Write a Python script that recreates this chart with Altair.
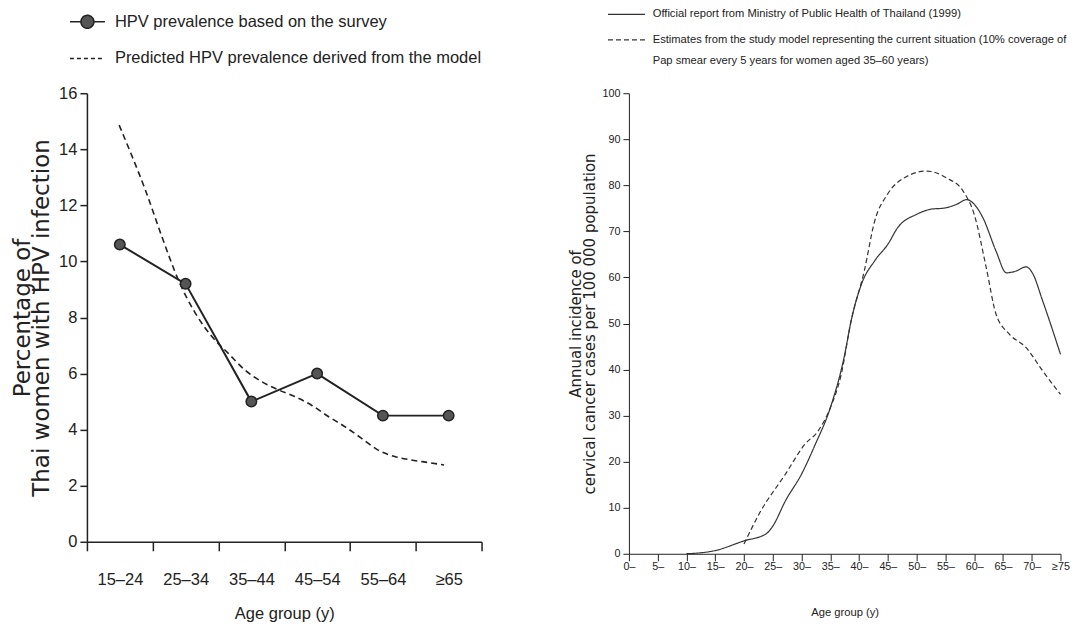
import json
import altair as alt
import pandas as pd

NARROW = "Liberation Sans, Arial, sans-serif"
WIDE = "DejaVu Sans, Verdana, sans-serif"

# ---------------- Left panel data ----------------
left_groups = ["15–24", "25–34", "35–44", "45–54", "55–64", "≥65"]
survey_pos = [0.5, 1.5, 2.5, 3.5, 4.5, 5.5]
survey_pct = [10.6, 9.2, 5.0, 6.0, 4.5, 4.5]
model_pos = [0.49, 0.69, 0.89, 1.14, 1.39, 1.65, 1.90, 2.15, 2.40, 2.66, 2.91,
             3.16, 3.41, 3.67, 3.92, 4.17, 4.42, 4.68, 4.93, 5.18, 5.43]
model_pct = [14.86, 13.73, 12.54, 10.88, 9.34, 8.15, 7.32, 6.72, 6.13, 5.71, 5.42,
             5.18, 4.88, 4.47, 4.11, 3.70, 3.28, 3.04, 2.92, 2.83, 2.74]
S1 = "HPV prevalence based on the survey"
S2 = "Predicted HPV prevalence derived from the model"

# ---------------- Right panel data ----------------
age_ticks = list(range(0, 80, 5))
official_age = [10, 15, 20, 23.8, 25, 27.2, 30, 32.4, 35, 37.5, 38.6, 40.4, 42.7, 45,
                46.7, 50, 52.4, 55, 57, 58.7, 60, 61.5, 63.8, 65.6, 67.3, 69, 70.1, 71.9, 75]
official_val = [0, 0.7, 2.8, 4.3, 6.0, 11.5, 17.3, 23.8, 31.7, 43.3, 50.5, 58.5, 63.6, 67.2,
                70.8, 73.7, 74.8, 75.1, 75.9, 76.9, 75.9, 73.0, 65.7, 61.0, 61.4, 62.3, 61.0, 54.9, 43.3]
est_age = [20, 22.6, 27.2, 30.6, 32.9, 35, 36.9, 38.6, 40.9, 42.7, 44.9, 47.8, 51.8,
           55.2, 58.1, 60, 62.1, 63.8, 66.1, 69, 71.9, 75]
est_val = [2.1, 8.6, 17.3, 23.8, 26.7, 31.7, 39.0, 50.5, 61.4, 72.2, 78.0, 81.6, 83.1,
           81.6, 78.7, 73.7, 62.1, 52.0, 47.7, 44.8, 39.7, 34.6]
R1 = "Official report from Ministry of Public Health of Thailand (1999)"
R2 = ("Estimates from the study model representing the current situation (10% coverage of"
      "|Pap smear every 5 years for women aged 35–60 years)")

# ---------------- Left panel ----------------
survey_df = pd.DataFrame({"pos": survey_pos, "pct": survey_pct, "series": S1})
model_df = pd.DataFrame({"pos": model_pos, "pct": model_pct, "series": S2})
legend_df = pd.DataFrame({"series": [S1, S2]})

x_left = alt.X(
    "pos:Q",
    scale=alt.Scale(domain=[0, 6], nice=False, zero=False),
    axis=alt.Axis(
        values=list(range(7)),
        labelExpr="datum.value < 6 ? " + json.dumps(left_groups, ensure_ascii=False) + "[datum.value] : ''",
        labelOffset=33, labelOverlap=False, labelFlush=False,
        tickSize=9, tickWidth=1.5, domainWidth=1.5,
        labelPadding=21, labelFont=NARROW, labelFontSize=16.5,
        title="Age group (y)", titleFont=NARROW, titleFontSize=16.5, titleFontWeight="normal",
        titlePadding=17,
    ),
)
y_left = alt.Y(
    "pct:Q",
    scale=alt.Scale(domain=[0, 16], nice=False),
    axis=alt.Axis(
        values=list(range(0, 17, 2)),
        tickSize=7, tickWidth=1.5, domainWidth=1.5,
        labelPadding=3, labelFont=NARROW, labelFontSize=16.5,
        title=["Percentage of", "Thai women with HPV infection"],
        titleFont=WIDE, titleFontSize=23, titleFontWeight="normal", titleLineHeight=19.5,
        titlePadding=5,
    ),
)

model_line = alt.Chart(model_df).mark_line(
    color="#222", strokeWidth=1.6, strokeDash=[6, 4], interpolate="monotone"
).encode(x=x_left, y=y_left)

survey_line = alt.Chart(survey_df).mark_line(color="#222", strokeWidth=2).encode(x=x_left, y=y_left)
survey_pts = alt.Chart(survey_df).mark_point(
    filled=True, fill="#555", stroke="#222", strokeWidth=1.5, size=110, opacity=1
).encode(x=x_left, y=y_left)

LEG_PATH = ("M-2,0H-0.74M0.74,0H2M0.74,0A0.74,0.74,0,1,1,-0.74,0"
            "A0.74,0.74,0,1,1,0.74,0Z")
leg_left = alt.Legend(
    title=None, orient="none", legendX=-9, legendY=-81, padding=0,
    labelFont=NARROW, labelFontSize=16.5, labelColor="#222", labelLimit=700,
    symbolSize=306, labelOffset=18, rowPadding=17.7, symbolStrokeWidth=1.5,
)
legend_left = alt.Chart(legend_df).mark_point(
    filled=True, fill="#555", stroke="#222", strokeWidth=1.5, opacity=1
).encode(
    shape=alt.Shape("series:N", scale=alt.Scale(domain=[S1, S2], range=[LEG_PATH, "M-2,0H2"]),
                    legend=leg_left),
    strokeDash=alt.StrokeDash("series:N", scale=alt.Scale(domain=[S1, S2], range=[[1, 0], [4, 3]]),
                              legend=leg_left),
).transform_filter("false")

left = alt.layer(model_line, survey_line, survey_pts, legend_left).properties(width=395, height=449)

# ---------------- Right panel ----------------
right_df = pd.concat([
    pd.DataFrame({"age": official_age, "val": official_val, "series": R1}),
    pd.DataFrame({"age": est_age, "val": est_val, "series": R2}),
])

right = alt.Chart(right_df).mark_line(color="#333", strokeWidth=1.2, interpolate="monotone").encode(
    x=alt.X(
        "age:Q",
        scale=alt.Scale(domain=[0, 75], nice=False, zero=False),
        axis=alt.Axis(
            values=age_ticks,
            labelExpr="datum.value == 75 ? '≥75' : datum.value + '–'",
            labelOverlap=False, labelFlush=False,
            tickSize=7, labelPadding=0, labelFont=NARROW, labelFontSize=10.8,
            title="Age group (y)", titleFont=NARROW, titleFontSize=11.2, titleFontWeight="normal",
            titlePadding=35,
        ),
    ),
    y=alt.Y(
        "val:Q",
        scale=alt.Scale(domain=[0, 100], nice=False),
        axis=alt.Axis(
            values=list(range(0, 101, 10)),
            tickSize=6, labelPadding=3, labelFont=NARROW, labelFontSize=10.8,
            title=["Annual incidence of", "cervical cancer cases per 100 000 population"],
            titleFont=WIDE, titleFontSize=15, titleFontWeight="normal", titleLineHeight=14,
            titlePadding=4,
        ),
    ),
    detail="series:N",
    strokeDash=alt.StrokeDash(
        "series:N",
        scale=alt.Scale(domain=[R1, R2], range=[[1, 0], [5, 3]]),
        legend=alt.Legend(
            title=None, orient="none", legendX=-8, legendY=-84.5, padding=0,
            labelFont=NARROW, labelFontSize=11.2, labelColor="#222", labelLimit=700,
            labelExpr="split(datum.label, '|')",
            symbolType="M-4,0H4", symbolSize=86, labelOffset=20.6, rowPadding=13.5,
            symbolStrokeWidth=1.2, symbolStrokeColor="#333",
        ),
    ),
).properties(width=432, height=461)

chart = alt.hconcat(left, right, spacing=53.5).resolve_scale(
    strokeDash="independent", shape="independent"
).resolve_legend(strokeDash="independent", shape="independent").properties(
    padding={"left": 3, "right": 0, "top": 0, "bottom": 0}
).configure(
    style={"guide-label": {"lineHeight": 21}}
).configure_view(stroke=None).configure_axis(
    grid=False, domainColor="#222", tickColor="#222", labelColor="#222", titleColor="#222"
)

chart.save("out.html", embed_options={"renderer": "svg", "actions": False})
